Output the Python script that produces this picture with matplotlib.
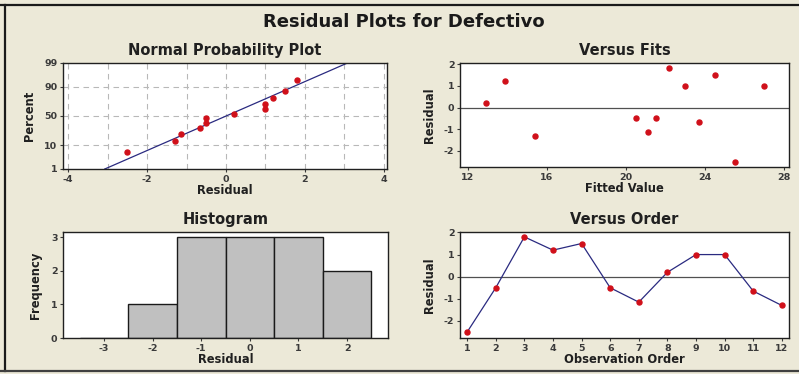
from statistics import NormalDist

import matplotlib.pyplot as plt
import numpy as np
from matplotlib.lines import Line2D

# Residuals in observation order and their fitted values
order = list(range(1, 13))
residuals = [-2.5, -0.5, 1.8, 1.2, 1.5, -0.5, -1.15, 0.2, 1.0, 1.0, -0.65, -1.3]
fitted = [25.5, 20.5, 22.2, 13.9, 24.5, 21.5, 21.1, 12.9, 23.0, 27.0, 23.7, 15.4]

hist_edges = [-3.5, -2.5, -1.5, -0.5, 0.5, 1.5, 2.5]
hist_ticks = [-3, -2, -1, 0, 1, 2]
prob_ticks = [1, 10, 50, 90, 99]

W, H = 799, 374
BG = "#ece9d8"
RED = "#d0101a"
NAVY = "#2a2a80"
TXT = "#3a3a3a"

plt.rcParams["font.family"] = ["DejaVu Sans"]
plt.rcParams["axes.unicode_minus"] = False

fig = plt.figure(figsize=(W / 100, H / 100), dpi=100, facecolor=BG)


def px_axes(l, t, r, b):
    ax = fig.add_axes([l / W, 1 - b / H, (r - l) / W, (b - t) / H])
    ax.set_facecolor("white")
    for s in ax.spines.values():
        s.set_color("#202020")
        s.set_linewidth(1.0)
    ax.tick_params(labelsize=6.8, colors=TXT, length=2.5, width=0.8, pad=1.5)
    return ax


def style(ax, title, xlabel, ylabel):
    ax.set_title(title, fontsize=10.5, fontweight="bold", color="#202020", pad=6)
    ax.set_xlabel(xlabel, fontsize=8.3, fontweight="bold", color="#202020", labelpad=0)
    ax.set_ylabel(ylabel, fontsize=8.3, fontweight="bold", color="#202020", labelpad=6)
    for lab in ax.get_xticklabels() + ax.get_yticklabels():
        lab.set_fontweight("bold")


nd = NormalDist()

# Normal probability plot (median ranks)
ax1 = px_axes(63, 63, 387, 169)
res = np.array(residuals)
srt = np.sort(res)
n = len(srt)
pct = [(i - 0.3) / (n + 0.4) for i in range(1, n + 1)]
zq = [nd.inv_cdf(p) for p in pct]
mu, sd = res.mean(), res.std(ddof=1)
ylo, yhi = nd.inv_cdf(0.0098), nd.inv_cdf(0.99)
for gx in range(-4, 5):
    ax1.axvline(gx, color="#b8b8b8", lw=0.8, ls=(0, (5, 4)), zorder=0)
for p in prob_ticks[1:-1]:
    ax1.axhline(nd.inv_cdf(p / 100), color="#b8b8b8", lw=0.8, ls=(0, (5, 4)), zorder=0)
zl = np.array([ylo, yhi])
ax1.plot(mu + sd * zl, zl, color=NAVY, lw=0.9, zorder=2)
ax1.plot(srt, zq, "o", color=RED, ms=3.6, mec=RED, zorder=3)
ax1.set_xlim(-4.13, 4.08)
ax1.set_ylim(ylo, yhi)
ax1.set_xticks([-4, -2, 0, 2, 4])
ax1.set_yticks([nd.inv_cdf(p / 100) for p in prob_ticks])
ax1.set_yticklabels([str(p) for p in prob_ticks])
style(ax1, "Normal Probability Plot", "Residual", "Percent")

# Residuals versus fitted values
ax2 = px_axes(460, 63, 789, 167)
ax2.axhline(0, color="#505050", lw=0.9, zorder=1)
ax2.plot(fitted, residuals, "o", color=RED, ms=3.6, mec=RED, zorder=3)
ax2.set_xlim(11.6, 28.25)
ax2.set_ylim(-2.74, 2.05)
ax2.set_xticks([12, 16, 20, 24, 28])
ax2.set_yticks([-2, -1, 0, 1, 2])
style(ax2, "Versus Fits", "Fitted Value", "Residual")

# Histogram of residuals
ax3 = px_axes(63, 232, 388, 338)
counts, edges = np.histogram(residuals, bins=hist_edges)
ax3.bar(edges[:-1], counts, width=np.diff(edges), align="edge",
        color="#c0c0c0", edgecolor="#1a1a1a", linewidth=1.0)
ax3.set_xlim(-3.84, 2.84)
ax3.set_ylim(0, 3.15)
ax3.set_xticks(hist_ticks)
ax3.set_yticks([0, 1, 2, 3])
style(ax3, "Histogram", "Residual", "Frequency")

# Residuals versus observation order
ax4 = px_axes(460, 232, 789, 338)
ax4.axhline(0, color="#505050", lw=0.9, zorder=1)
ax4.plot(order, residuals, "-", color=NAVY, lw=0.9, zorder=2)
ax4.plot(order, residuals, "o", color=RED, ms=3.6, mec=RED, zorder=3)
ax4.set_xlim(0.75, 12.25)
ax4.set_ylim(-2.77, 2.02)
ax4.set_xticks(order)
ax4.set_yticks([-2, -1, 0, 1, 2])
style(ax4, "Versus Order", "Observation Order", "Residual")

fig.text(404 / W, 1 - 22 / H, "Residual Plots for Defectivo", ha="center", va="center",
         fontsize=13, fontweight="bold", color="#1a1a1a")

# window frame
fig.add_artist(Line2D([0, 1], [1 - 5 / H, 1 - 5 / H], color="#1a1a1a", lw=1.6))
fig.add_artist(Line2D([4.5 / W, 4.5 / W], [1 - 5 / H, 1 - 371 / H], color="#1a1a1a", lw=1.6))
fig.add_artist(Line2D([0, 1], [1 - 371 / H, 1 - 371 / H], color="#404040", lw=1.6))

fig.savefig("out.png", dpi=100, facecolor=BG)
